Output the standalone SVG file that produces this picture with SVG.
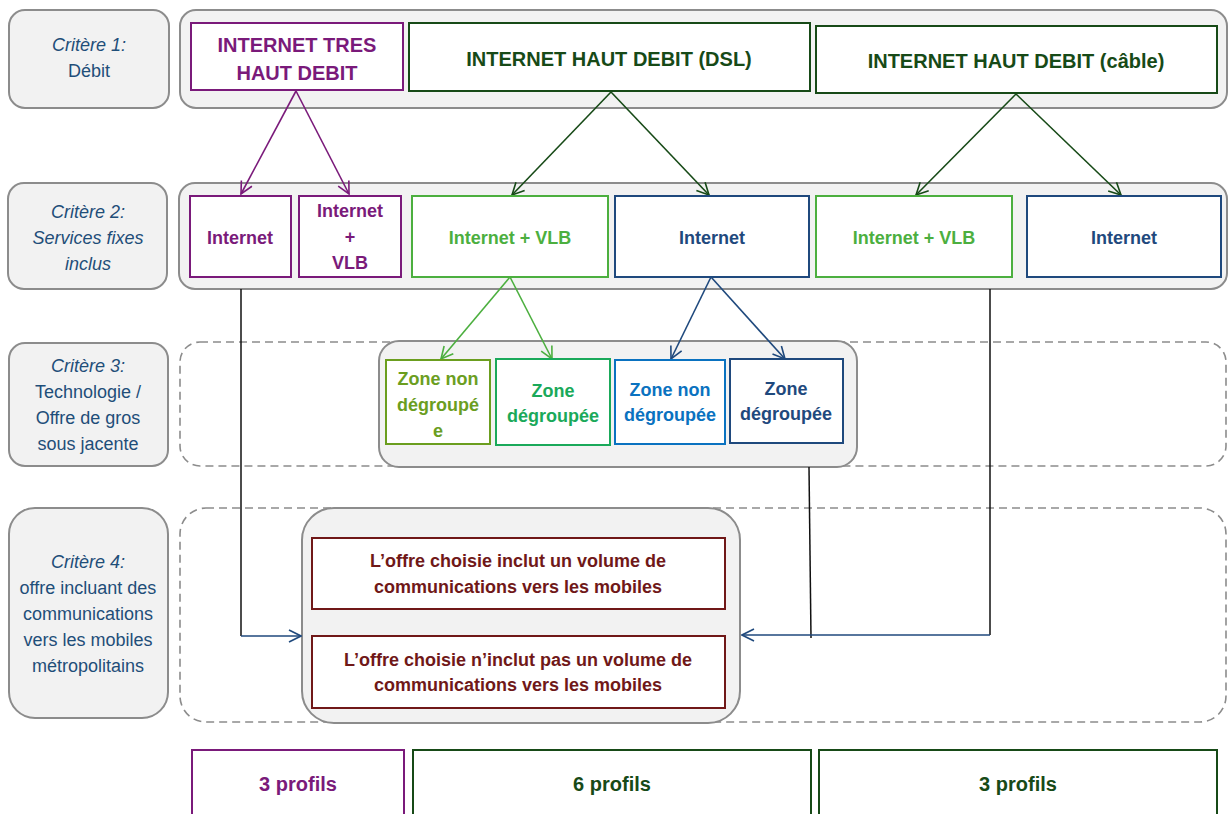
<svg xmlns="http://www.w3.org/2000/svg" width="1228" height="814" viewBox="0 0 1228 814">
<style>
.crit{fill:#f2f2f2;stroke:#8c8c8c;stroke-width:2}
.dash{fill:none;stroke:#8c8c8c;stroke-width:1.6;stroke-dasharray:8 5}
.ct{font-family:"Liberation Sans",Arial,sans-serif;font-size:18px;fill:#1f4e79;text-anchor:middle}
.it{font-style:italic}
.nb{fill:#fff;stroke-width:2}
.t{font-family:"Liberation Sans",Arial,sans-serif;font-weight:bold;text-anchor:middle}
.pur{stroke:#7a1a7a}.purt{fill:#7a1a7a}
.dg{stroke:#174a17}.dgt{fill:#174a17}
.lg{stroke:#4caf3f}.lgt{fill:#4caf3f}
.db{stroke:#1f497d}.dbt{fill:#1f497d}
.ol{stroke:#6b9e1f}.olt{fill:#6b9e1f}
.gr{stroke:#1aa95a}.grt{fill:#1aa95a}
.bl{stroke:#0a72c0}.blt{fill:#0a72c0}
.mr{stroke:#701818}.mrt{fill:#701818}
.cn{fill:none;stroke-width:1.6}
.blk{fill:none;stroke:#111;stroke-width:1.5}
</style>
<defs>
<marker id="aP" viewBox="0 0 14 14" refX="13" refY="7" markerWidth="14" markerHeight="14" markerUnits="userSpaceOnUse" orient="auto"><path d="M1,1 L13,7 L1,13" fill="none" stroke="#7a1a7a" stroke-width="1.6"/></marker>
<marker id="aDG" viewBox="0 0 14 14" refX="13" refY="7" markerWidth="14" markerHeight="14" markerUnits="userSpaceOnUse" orient="auto"><path d="M1,1 L13,7 L1,13" fill="none" stroke="#174a17" stroke-width="1.6"/></marker>
<marker id="aLG" viewBox="0 0 14 14" refX="13" refY="7" markerWidth="14" markerHeight="14" markerUnits="userSpaceOnUse" orient="auto"><path d="M1,1 L13,7 L1,13" fill="none" stroke="#4caf3f" stroke-width="1.6"/></marker>
<marker id="aDB" viewBox="0 0 14 14" refX="13" refY="7" markerWidth="14" markerHeight="14" markerUnits="userSpaceOnUse" orient="auto"><path d="M1,1 L13,7 L1,13" fill="none" stroke="#1f497d" stroke-width="1.6"/></marker>
</defs>

<!-- criterion labels -->
<g id="crit1"><rect class="crit" x="9" y="10" width="160" height="98" rx="16"/>
<text class="ct it" x="89" y="51">Critère 1:</text><text class="ct" x="89" y="77">Débit</text></g>
<g id="crit2"><rect class="crit" x="8" y="183" width="159" height="106" rx="16"/>
<text class="ct it" x="88" y="218">Critère 2:</text><text class="ct it" x="88" y="244">Services fixes</text><text class="ct it" x="88" y="270">inclus</text></g>
<g id="crit3"><rect class="crit" x="9" y="343" width="159" height="123" rx="16"/>
<text class="ct it" x="88" y="372">Critère 3:</text><text class="ct" x="88" y="398">Technologie /</text><text class="ct" x="88" y="424">Offre de gros</text><text class="ct" x="88" y="450">sous jacente</text></g>
<g id="crit4"><rect class="crit" x="9" y="508" width="159" height="210" rx="26"/>
<text class="ct it" x="88" y="568">Critère 4:</text><text class="ct" x="88" y="594">offre incluant des</text><text class="ct" x="88" y="620">communications</text><text class="ct" x="88" y="646">vers les mobiles</text><text class="ct" x="88" y="672">métropolitains</text></g>

<!-- row containers -->
<g id="row1"><rect class="crit" x="180" y="10" width="1047" height="98" rx="16"/></g>
<g id="row2"><rect class="crit" x="179" y="183" width="1048" height="106" rx="16"/></g>
<g id="row3"><rect class="dash" x="180" y="342" width="1046" height="124" rx="20"/>
<rect class="crit" x="379" y="341" width="478" height="126" rx="20"/></g>
<g id="row4"><rect class="dash" x="180" y="508" width="1046" height="214" rx="26"/>
<rect class="crit" x="302" y="508" width="438" height="215" rx="32"/></g>

<!-- connectors -->
<g id="connectors">
<path class="cn pur" d="M296,91 L241,194" marker-end="url(#aP)"/>
<path class="cn pur" d="M296,91 L349,194" marker-end="url(#aP)"/>
<path class="cn dg" d="M611,92 L512,195" marker-end="url(#aDG)"/>
<path class="cn dg" d="M611,92 L709,195" marker-end="url(#aDG)"/>
<path class="cn dg" d="M1016,94 L916,195" marker-end="url(#aDG)"/>
<path class="cn dg" d="M1016,94 L1121,195" marker-end="url(#aDG)"/>
<path class="cn lg" d="M510,277 L441,359" marker-end="url(#aLG)"/>
<path class="cn lg" d="M510,277 L552,359" marker-end="url(#aLG)"/>
<path class="cn db" d="M711,277 L671,359" marker-end="url(#aDB)"/>
<path class="cn db" d="M711,277 L785,359" marker-end="url(#aDB)"/>
<path class="blk" d="M241,289 L241,636"/>
<path class="cn db" d="M241,636 L301,636" marker-end="url(#aDB)"/>
<path class="blk" d="M809,467 L811,638"/>
<path class="blk" d="M990,289 L990,635"/>
<path class="cn db" d="M990,635 L742,635" marker-end="url(#aDB)"/>
</g>

<!-- row 1 nodes -->
<g id="n_thd"><rect class="nb pur" x="191" y="23" width="212" height="67"/>
<text class="t purt" font-size="20" x="297" y="52">INTERNET TRES</text><text class="t purt" font-size="20" x="297" y="80">HAUT DEBIT</text></g>
<g id="n_dsl"><rect class="nb dg" x="409" y="23" width="401" height="68"/>
<text class="t dgt" font-size="20" x="609" y="66">INTERNET HAUT DEBIT (DSL)</text></g>
<g id="n_cable"><rect class="nb dg" x="816" y="26" width="401" height="67"/>
<text class="t dgt" font-size="20" x="1016" y="68">INTERNET HAUT DEBIT (câble)</text></g>

<!-- row 2 nodes -->
<g id="n_p_int"><rect class="nb pur" x="190" y="196" width="101" height="81"/>
<text class="t purt" font-size="18" x="240" y="244">Internet</text></g>
<g id="n_p_vlb"><rect class="nb pur" x="299" y="196" width="102" height="81"/>
<text class="t purt" font-size="18" x="350" y="217">Internet</text><text class="t purt" font-size="18" x="350" y="243">+</text><text class="t purt" font-size="18" x="350" y="269">VLB</text></g>
<g id="n_d_vlb"><rect class="nb lg" x="412" y="196" width="196" height="81"/>
<text class="t lgt" font-size="18" x="510" y="244">Internet + VLB</text></g>
<g id="n_d_int"><rect class="nb db" x="615" y="196" width="194" height="81"/>
<text class="t dbt" font-size="18" x="712" y="244">Internet</text></g>
<g id="n_c_vlb"><rect class="nb lg" x="816" y="196" width="196" height="81"/>
<text class="t lgt" font-size="18" x="914" y="244">Internet + VLB</text></g>
<g id="n_c_int"><rect class="nb db" x="1027" y="196" width="194" height="81"/>
<text class="t dbt" font-size="18" x="1124" y="244">Internet</text></g>

<!-- row 3 nodes -->
<g id="n_z1"><rect class="nb ol" x="386" y="360" width="104" height="84"/>
<text class="t olt" font-size="18" x="438" y="385">Zone non</text><text class="t olt" font-size="18" x="438" y="411">dégroupé</text><text class="t olt" font-size="18" x="438" y="437">e</text></g>
<g id="n_z2"><rect class="nb gr" x="496" y="359" width="114" height="86"/>
<text class="t grt" font-size="18" x="553" y="397">Zone</text><text class="t grt" font-size="18" x="553" y="422">dégroupée</text></g>
<g id="n_z3"><rect class="nb bl" x="615" y="360" width="110" height="84"/>
<text class="t blt" font-size="18" x="670" y="396">Zone non</text><text class="t blt" font-size="18" x="670" y="421">dégroupée</text></g>
<g id="n_z4"><rect class="nb db" x="730" y="359" width="113" height="84"/>
<text class="t dbt" font-size="18" x="786" y="395">Zone</text><text class="t dbt" font-size="18" x="786" y="420">dégroupée</text></g>

<!-- row 4 nodes -->
<g id="n_incl"><rect class="nb mr" x="312" y="538" width="413" height="71"/>
<text class="t mrt" font-size="18" x="518" y="567">L’offre choisie inclut un volume de</text><text class="t mrt" font-size="18" x="518" y="593">communications vers les mobiles</text></g>
<g id="n_nincl"><rect class="nb mr" x="312" y="636" width="413" height="72"/>
<text class="t mrt" font-size="18" x="518" y="666">L’offre choisie n’inclut pas un volume de</text><text class="t mrt" font-size="18" x="518" y="691">communications vers les mobiles</text></g>

<!-- profiles -->
<g id="p1"><rect class="nb pur" x="192" y="750" width="212" height="80"/>
<text class="t purt" font-size="20" x="298" y="791">3 profils</text></g>
<g id="p2"><rect class="nb dg" x="413" y="750" width="398" height="80"/>
<text class="t dgt" font-size="20" x="612" y="791">6 profils</text></g>
<g id="p3"><rect class="nb dg" x="819" y="750" width="398" height="80"/>
<text class="t dgt" font-size="20" x="1018" y="791">3 profils</text></g>
</svg>
